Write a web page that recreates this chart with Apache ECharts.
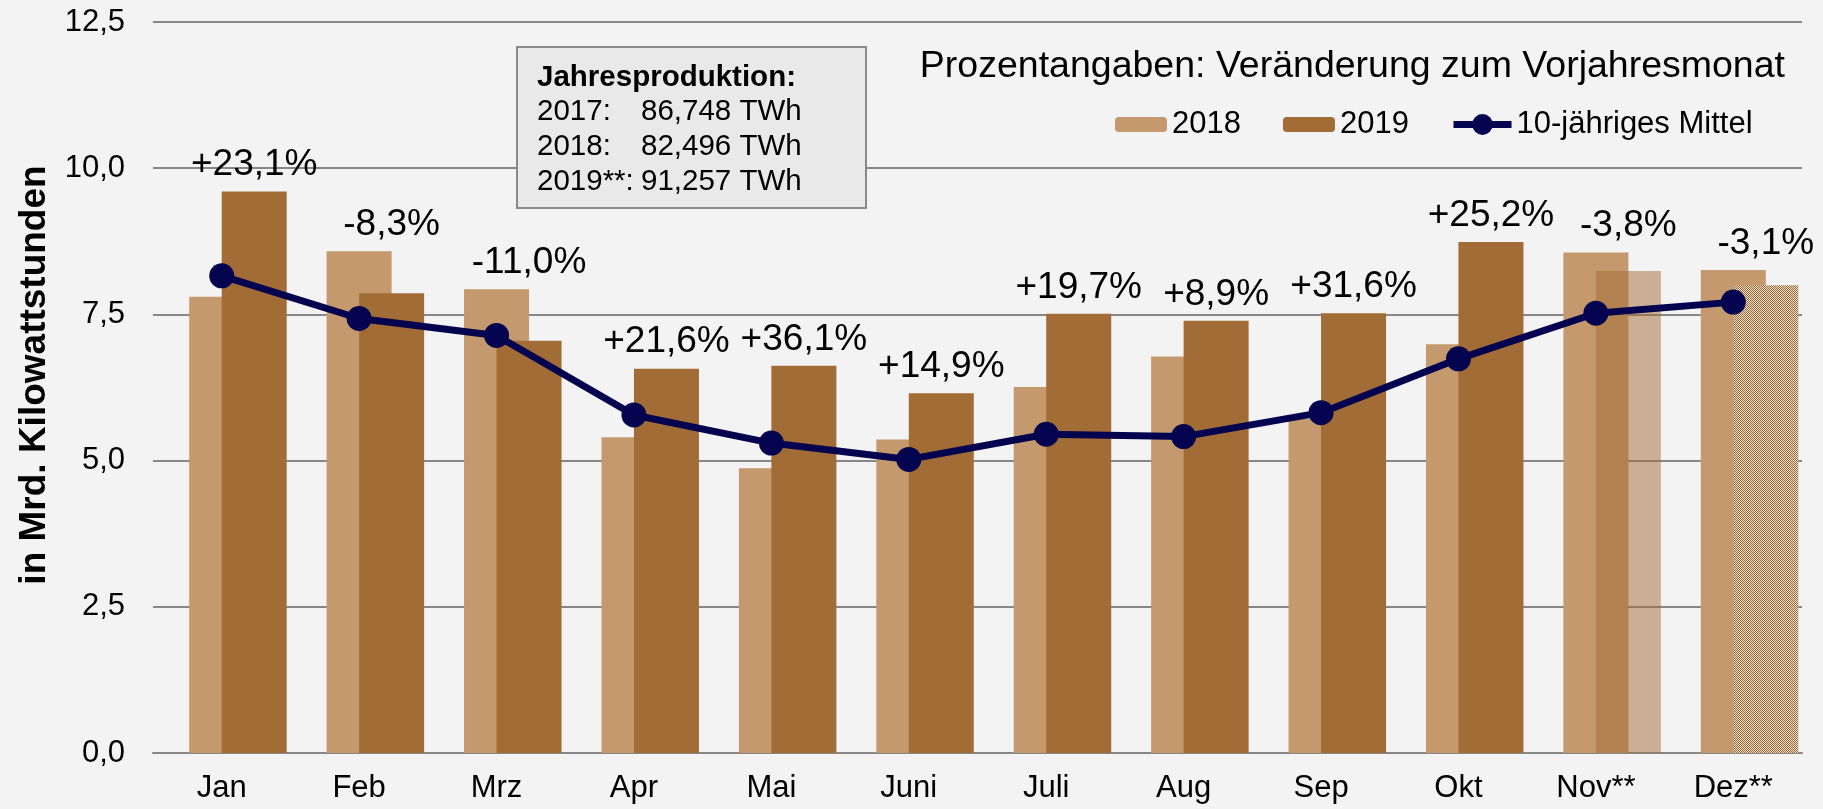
<!DOCTYPE html>
<html>
<head>
<meta charset="utf-8">
<script src="https://cdn.jsdelivr.net/npm/echarts@6/dist/echarts.min.js"></script>
<style>
html,body{margin:0;padding:0;background:#f3f3f3;}
#chart{width:1823px;height:809px;}
</style>
</head>
<body>
<div id="chart"></div>
<script>
const categories = ['Jan','Feb','Mrz','Apr','Mai','Juni','Juli','Aug','Sep','Okt','Nov**','Dez**'];
const values2018 = [7.80, 8.58, 7.93, 5.40, 4.87, 5.36, 6.26, 6.78, 5.72, 6.99, 8.56, 8.26];
const values2019 = [9.60, 7.86, 7.05, 6.57, 6.62, 6.15, 7.51, 7.39, 7.52, 8.74, 8.24, 8.00];
const mean10 = [8.16, 7.43, 7.14, 5.78, 5.30, 5.02, 5.45, 5.41, 5.82, 6.74, 7.52, 7.71];
const pctLabels = ['+23,1%','-8,3%','-11,0%','+21,6%','+36,1%','+14,9%','+19,7%','+8,9%','+31,6%','+25,2%','-3,8%','-3,1%'];
const yTickLabels = ['0,0','2,5','5,0','7,5','10,0','12,5'];
const seriesNames = ['2018','2019','10-jähriges Mittel'];
const titleText = 'Prozentangaben: Veränderung zum Vorjahresmonat';
const yAxisName = 'in Mrd. Kilowattstunden';
const boxTitle = 'Jahresproduktion:';
const boxYears = ['2017:','2018:','2019**:'];
const boxValues = ['86,748 TWh','82,496 TWh','91,257 TWh'];
const estimatedMonth = 'Nov**';
const patternMonth = 'Dez**';

const C2018 = '#c4996d';
const C2019 = '#a16c35';
const CLINE = '#03034f';
const FONT = '"Liberation Sans", Arial, sans-serif';

// checker pattern for December estimate
const pc = document.createElement('canvas');
pc.width = 2; pc.height = 2;
const pctx = pc.getContext('2d');
pctx.fillStyle = '#ece2d6'; pctx.fillRect(0,0,2,2);
pctx.fillStyle = '#9c652d'; pctx.fillRect(0,0,1,1); pctx.fillRect(1,1,1,1);

const data2019 = values2019.map((v, i) => {
  if (categories[i] === estimatedMonth) return {value: v, itemStyle: {color: 'rgba(161,108,53,0.5)'}};
  if (categories[i] === patternMonth) return {value: v, itemStyle: {color: {image: pc, repeat: 'repeat'}}};
  return v;
});
const labelTops = values2018.map((v, i) => Math.max(v, values2019[i]));

const chart = echarts.init(document.getElementById('chart'));
const barW = 65;
const txt = (text, x, y, extra) => ({type: 'text', x: x, y: y,
  style: Object.assign({text: text, fontFamily: FONT, fontSize: 29.5, fill: '#000', verticalAlign: 'middle'}, extra || {})});

chart.setOption({
  backgroundColor: '#f3f3f3',
  animation: false,
  textStyle: {fontFamily: FONT},
  title: {
    text: titleText, right: 33, top: 43,
    textStyle: {fontFamily: FONT, fontSize: 37.5, fontWeight: 'normal', color: '#000'}
  },
  legend: [{
    data: [seriesNames[0], seriesNames[1]], left: 1110, top: 104, itemWidth: 52, itemHeight: 15, itemGap: 42,
    textStyle: {fontFamily: FONT, fontSize: 31, color: '#000'}
  }, {
    data: [seriesNames[2]], left: 1445, top: 104, itemWidth: 58, itemHeight: 26,
    lineStyle: {width: 7},
    textStyle: {fontFamily: FONT, fontSize: 31, color: '#000'}
  }],
  grid: {left: 153, right: 21, top: 22, bottom: 56},
  xAxis: [{
    type: 'category', data: categories,
    axisLine: {lineStyle: {color: '#878787', width: 2}},
    axisTick: {show: false},
    axisLabel: {fontFamily: FONT, fontSize: 31, color: '#000', margin: 20}
  }, {
    type: 'category', data: categories, show: false, position: 'bottom'
  }],
  yAxis: {
    type: 'value', min: 0, max: 12.5, interval: 2.5,
    name: yAxisName, nameLocation: 'middle', nameGap: 100, nameRotate: 90,
    nameTextStyle: {fontFamily: FONT, fontSize: 37, fontWeight: 'bold', color: '#000', padding: [0, 0, 0, 25]},
    axisLine: {show: false}, axisTick: {show: false},
    splitLine: {lineStyle: {color: '#878787', width: 2}},
    axisLabel: {fontFamily: FONT, fontSize: 31, color: '#000', margin: 28,
      formatter: v => yTickLabels[Math.round(v / 2.5)]}
  },
  series: [
    {name: '_pad', type: 'bar', xAxisIndex: 0, barWidth: barW, barGap: '-50%', data: categories.map(() => '-'), silent: true},
    {name: seriesNames[0], type: 'bar', xAxisIndex: 0, barWidth: barW, barGap: '-50%', data: values2018, itemStyle: {color: C2018}, z: 2},
    {name: seriesNames[1], type: 'bar', xAxisIndex: 0, barWidth: barW, barGap: '-50%', data: data2019, itemStyle: {color: C2019}, z: 2},
    {name: '_pad2', type: 'bar', xAxisIndex: 1, barWidth: barW, barGap: '0%', data: categories.map(() => '-'), silent: true},
    {name: '_labels', type: 'bar', xAxisIndex: 1, barWidth: barW, barGap: '0%', data: labelTops, silent: true,
      itemStyle: {color: 'rgba(0,0,0,0)'}, z: 1,
      label: {show: true, position: 'top', distance: 8, fontFamily: FONT, fontSize: 37, color: '#000',
        formatter: p => pctLabels[p.dataIndex]}},
    {name: seriesNames[2], type: 'line', xAxisIndex: 0, data: mean10, z: 5,
      symbol: 'circle', symbolSize: 25,
      lineStyle: {color: CLINE, width: 7}, itemStyle: {color: CLINE}}
  ],
  graphic: [
    {type: 'rect', shape: {x: 517, y: 47, width: 349, height: 161},
      style: {fill: '#e9e9e9', stroke: '#8a8a8a', lineWidth: 2}, z: 10},
    Object.assign(txt(boxTitle, 537, 78, {fontWeight: 'bold'}), {z: 11}),
    ...boxYears.map((t, i) => Object.assign(txt(t, 537, 112 + i * 35), {z: 11})),
    ...boxValues.map((t, i) => Object.assign(txt(t, 641, 112 + i * 35), {z: 11}))
  ]
});
</script>
</body>
</html>
